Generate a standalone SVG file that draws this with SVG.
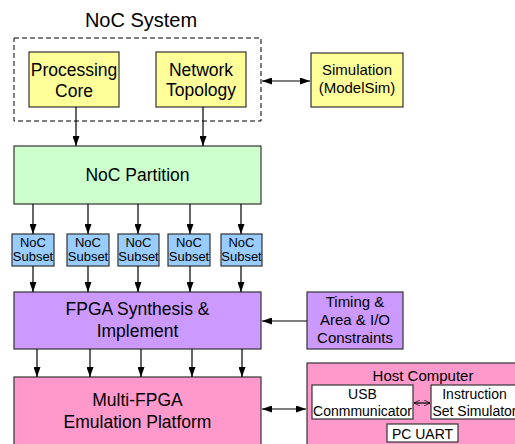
<svg xmlns="http://www.w3.org/2000/svg" width="515" height="444" viewBox="0 0 515 444">
<defs>
<marker id="ah" viewBox="0 0 10 7" refX="10" refY="3.5" markerWidth="10" markerHeight="7" markerUnits="userSpaceOnUse" orient="auto-start-reverse"><path d="M0,0 L10,3.5 L0,7 z" fill="#000"/></marker>
<marker id="ahs" viewBox="0 0 10 10" refX="10" refY="5" markerWidth="6" markerHeight="6" markerUnits="userSpaceOnUse" orient="auto-start-reverse"><path d="M0,0 L10,5 L0,10" fill="none" stroke="#000" stroke-width="1.2"/></marker>
</defs>
<style>
text{font-family:"Liberation Sans",Arial,sans-serif;fill:#000;text-anchor:middle}
.box{stroke:#333;stroke-width:1.2}
.y{fill:#ffff99}.g{fill:#ccffcc}.b{fill:#99ccff}.p{fill:#cc99ff}.k{fill:#ff99cc}.w{fill:#fff}
.c{stroke:#000;stroke-width:1.2;fill:none}
.f17{font-size:17.5px}.f15{font-size:15px}.f13{font-size:13px}.f14{font-size:14px}
</style>
<rect x="0" y="0" width="515" height="444" fill="#fff"/>
<g id="noc-system">
<text x="141" y="27" style="font-size:20px">NoC System</text>
<rect x="14" y="38" width="247" height="83" fill="none" stroke="#000" stroke-width="1" stroke-dasharray="5,3"/>
</g>
<g id="processing-core">
<rect class="box y" x="29" y="52" width="90" height="55"/>
<text class="f17" x="74" y="76">Processing</text>
<text class="f17" x="74" y="96.5">Core</text>
</g>
<g id="network-topology">
<rect class="box y" x="156" y="52" width="90" height="55"/>
<text class="f17" x="201" y="75.5">Network</text>
<text class="f17" x="201" y="96">Topology</text>
</g>
<g id="simulation">
<rect class="box y" x="311" y="53" width="92" height="54"/>
<text class="f15" x="357" y="75">Simulation</text>
<text class="f15" x="357" y="92.5">(ModelSim)</text>
</g>
<g id="noc-partition">
<rect class="box g" x="14" y="146" width="247" height="58"/>
<text class="f17" x="137.5" y="181">NoC Partition</text>
</g>
<g id="subset1"><rect class="box b" x="12" y="234" width="42" height="32"/><text class="f13" x="33" y="247">NoC</text><text class="f13" x="33" y="261">Subset</text></g>
<g id="subset2"><rect class="box b" x="67" y="234" width="42" height="32"/><text class="f13" x="88" y="247">NoC</text><text class="f13" x="88" y="261">Subset</text></g>
<g id="subset3"><rect class="box b" x="118" y="234" width="41" height="32"/><text class="f13" x="138.5" y="247">NoC</text><text class="f13" x="138.5" y="261">Subset</text></g>
<g id="subset4"><rect class="box b" x="168" y="234" width="42" height="32"/><text class="f13" x="189" y="247">NoC</text><text class="f13" x="189" y="261">Subset</text></g>
<g id="subset5"><rect class="box b" x="221" y="234" width="41" height="32"/><text class="f13" x="241.5" y="247">NoC</text><text class="f13" x="241.5" y="261">Subset</text></g>
<g id="fpga-synthesis">
<rect class="box p" x="14" y="292" width="247" height="57"/>
<text class="f17" x="137.5" y="315">FPGA Synthesis &amp;</text>
<text class="f17" x="137.5" y="336.5">Implement</text>
</g>
<g id="constraints">
<rect class="box p" x="307" y="292" width="96" height="57"/>
<text class="f15" x="355" y="306.5">Timing &amp;</text>
<text class="f15" x="355" y="324.5">Area &amp; I/O</text>
<text class="f15" x="355" y="343">Constraints</text>
</g>
<g id="multi-fpga">
<rect class="box k" x="14" y="377" width="247" height="80"/>
<text class="f17" x="137.5" y="405.5">Multi-FPGA</text>
<text class="f17" x="137.5" y="427.5">Emulation Platform</text>
</g>
<g id="host-computer">
<rect class="box k" x="307" y="363" width="220" height="90"/>
<text class="f15" x="423" y="381">Host Computer</text>
</g>
<g id="usb">
<rect class="box w" x="312" y="385" width="101" height="34"/>
<text class="f14" x="362.5" y="399">USB</text>
<text class="f14" x="362.5" y="416">Conmmunicator</text>
</g>
<g id="iss">
<rect class="box w" x="431" y="385" width="90" height="34"/>
<text class="f14" x="474.5" y="399">Instruction</text>
<text class="f14" x="474.5" y="416">Set Simulator</text>
</g>
<g id="pc-uart">
<rect class="box w" x="387" y="424" width="71" height="18"/>
<text class="f14" x="422.5" y="438.5">PC UART</text>
</g>
<g id="connectors">
<line class="c" x1="262" y1="81" x2="310" y2="81" marker-start="url(#ah)" marker-end="url(#ah)"/>
<line class="c" x1="76" y1="107" x2="76" y2="146" marker-end="url(#ah)"/>
<line class="c" x1="203" y1="107" x2="203" y2="146" marker-end="url(#ah)"/>
<line class="c" x1="33" y1="204" x2="33" y2="234" marker-end="url(#ah)"/>
<line class="c" x1="88" y1="204" x2="88" y2="234" marker-end="url(#ah)"/>
<line class="c" x1="138" y1="204" x2="138" y2="234" marker-end="url(#ah)"/>
<line class="c" x1="190" y1="204" x2="190" y2="234" marker-end="url(#ah)"/>
<line class="c" x1="241" y1="204" x2="241" y2="234" marker-end="url(#ah)"/>
<line class="c" x1="33" y1="266" x2="33" y2="292" marker-end="url(#ah)"/>
<line class="c" x1="88" y1="266" x2="88" y2="292" marker-end="url(#ah)"/>
<line class="c" x1="138" y1="266" x2="138" y2="292" marker-end="url(#ah)"/>
<line class="c" x1="190" y1="266" x2="190" y2="292" marker-end="url(#ah)"/>
<line class="c" x1="241" y1="266" x2="241" y2="292" marker-end="url(#ah)"/>
<line class="c" x1="307" y1="321" x2="262" y2="321" marker-end="url(#ah)"/>
<line class="c" x1="37" y1="349" x2="37" y2="377" marker-end="url(#ah)"/>
<line class="c" x1="90" y1="349" x2="90" y2="377" marker-end="url(#ah)"/>
<line class="c" x1="141" y1="349" x2="141" y2="377" marker-end="url(#ah)"/>
<line class="c" x1="192" y1="349" x2="192" y2="377" marker-end="url(#ah)"/>
<line class="c" x1="242" y1="349" x2="242" y2="377" marker-end="url(#ah)"/>
<line class="c" x1="262" y1="409" x2="306" y2="409" marker-start="url(#ah)" marker-end="url(#ah)"/>
<line class="c" x1="414" y1="403" x2="430" y2="403" stroke-width="1" marker-start="url(#ahs)" marker-end="url(#ahs)"/>
</g>
</svg>
